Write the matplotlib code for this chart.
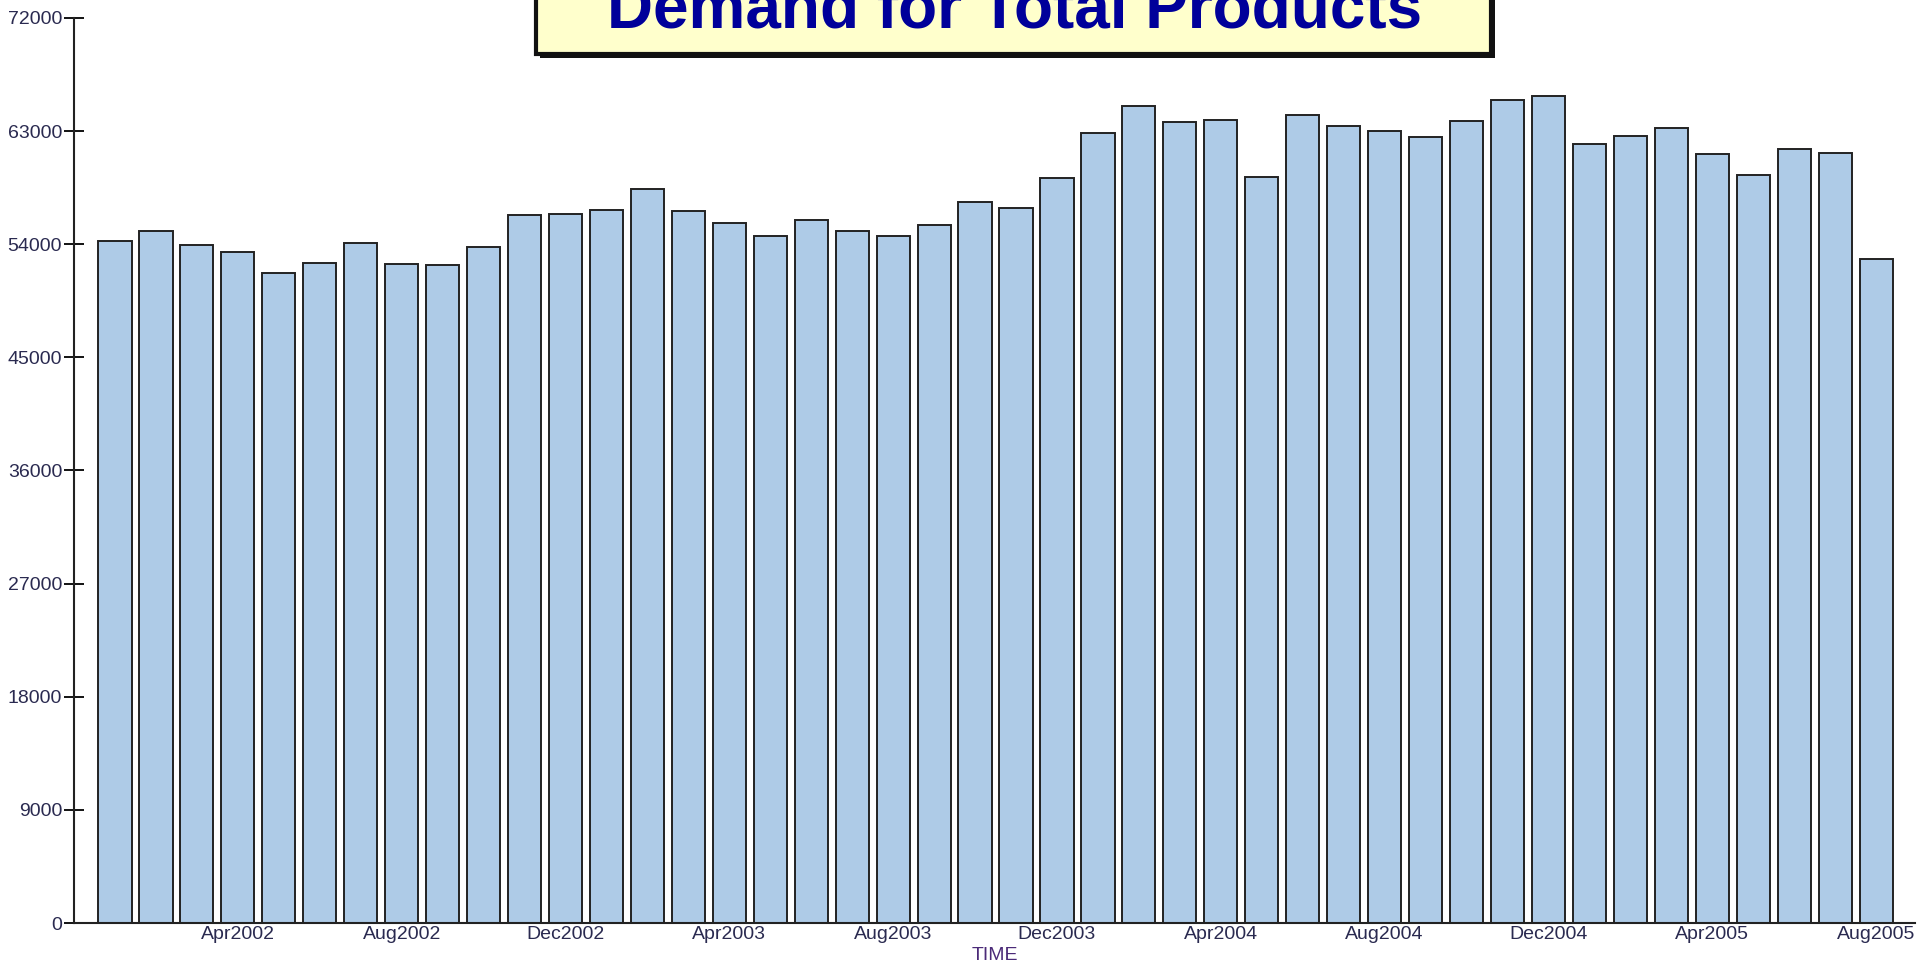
import matplotlib.pyplot as plt
import numpy as np
from matplotlib.patches import Rectangle

# monthly demand, Jan2002 .. Aug2005
months = ["Jan", "Feb", "Mar", "Apr", "May", "Jun", "Jul", "Aug", "Sep", "Oct", "Nov", "Dec"]
periods = [f"{m}{y}" for y in range(2002, 2006) for m in months][:44]
demand = [54270, 55050, 53975, 53390, 51735, 52515, 54075, 52420, 52320, 53780, 56315, 56410,
          56700, 58360, 56610, 55730, 54660, 55925, 55050, 54660, 55535, 57385, 56900, 59240,
          62840, 64985, 63720, 63915, 59335, 64300, 63430, 63040, 62550, 63815, 65470, 65765,
          61965, 62650, 63230, 61185, 59530, 61575, 61285, 52810]
tick_labels = ["Apr2002", "Aug2002", "Dec2002", "Apr2003", "Aug2003", "Dec2003",
               "Apr2004", "Aug2004", "Dec2004", "Apr2005", "Aug2005"]
y_ticks = list(range(0, 72001, 9000))

plt.rcParams['font.family'] = ['Liberation Sans', 'DejaVu Sans']

fig = plt.figure(figsize=(19.19, 9.63), dpi=100)
ax = fig.add_axes([74 / 1919, 40 / 963, (1915 - 74) / 1919, (923 - 18) / 963])

x = np.arange(len(demand))
ax.bar(x, demand, width=0.81, color="#aecbe7", edgecolor="#222222", linewidth=1.4, zorder=2)

ax.set_xlim(-1.0, 43.95)
ax.set_ylim(0, 72000)
ax.set_yticks(y_ticks)
ax.set_yticklabels([str(v) for v in y_ticks])
ax.set_xticks([periods.index(t) for t in tick_labels])
ax.set_xticklabels(tick_labels)

ax.spines["top"].set_visible(False)
ax.spines["right"].set_visible(False)
for s in ("left", "bottom"):
    ax.spines[s].set_linewidth(1.5)
    ax.spines[s].set_color("#222222")

ax.tick_params(axis="y", direction="inout", length=15, width=1.3, labelsize=14,
               labelcolor="#2a2a50", pad=1)
ax.tick_params(axis="x", direction="in", length=7, width=1.3, labelsize=14,
               labelcolor="#2a2a50", pad=2)
ax.set_xlabel("TIME", fontsize=14, color="#4b2a78", labelpad=3)

# title box, partly cut off by the top edge
fig.patches.append(Rectangle((540 / 1919, 1 - 58 / 963), (1495 - 540) / 1919, 0.2,
                             transform=fig.transFigure, facecolor="#111111",
                             edgecolor="none", zorder=5))
fig.patches.append(Rectangle((536 / 1919, 1 - 54 / 963), (1491 - 536) / 1919, 0.2,
                             transform=fig.transFigure, facecolor="#ffffcc",
                             edgecolor="#111111", linewidth=3, zorder=6))
fig.text(1015 / 1919, 1 - 27 / 963, "Demand for Total Products", ha="center", va="baseline",
         fontsize=46, fontweight="bold", color="#00009a", zorder=7)

fig.savefig("out.png", dpi=100)
